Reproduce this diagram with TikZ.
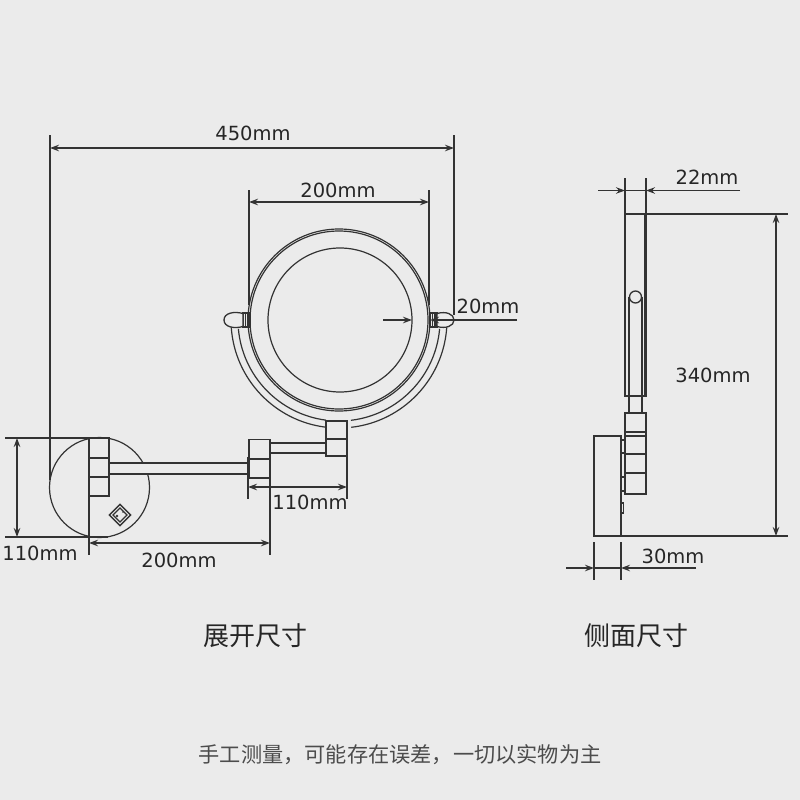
\documentclass[tikz,border=0pt]{standalone}
\usepackage{fontspec}
\setmainfont{DejaVu Sans}
\newfontfamily\cjkfont{Noto Sans CJK SC}
\usetikzlibrary{arrows.meta}
\definecolor{paper}{HTML}{EBEBEB}
\definecolor{ink}{HTML}{333333}

\begin{document}
\begin{tikzpicture}[
		x=1pt, y=-1pt,
		% Styles
		part/.style={draw=ink, line width=1.3pt, fill=paper},
		outline/.style={draw=ink, line width=1.2pt},
		extline/.style={draw=ink, line width=1.3pt},
		% Labels
		dimtext/.style={font=\fontsize{19.5}{20}\selectfont, text=black!85, inner sep=0pt},
		title/.style={font=\cjkfont\fontsize{26}{28}\selectfont, text=black!85, inner sep=0pt},
		remark/.style={font=\cjkfont\fontsize{21.2}{23}\selectfont, text=black!70, inner sep=0pt},
		% Arrows
		>={Stealth[length=9pt,width=6.5pt]},
		]

		% Background
		\fill[paper] (0,0) rectangle (800,800);

		% Wall plate
		\draw[outline] (99.5,487.5) circle[radius=50];
		\node[part, minimum size=15pt, inner sep=0pt, rotate=45] (switch_outer) at (120,515) {};
		\node[outline, minimum size=10pt, inner sep=0pt, rotate=45] (switch_inner) at (120,515) {};
		\fill[ink] (117,516) circle[radius=1.3] (123,512) circle[radius=0.8];

		% Long arm
		\draw[part] (109,463) rectangle (248,474);
		% Wall block
		\draw[part] (89,438) rectangle (109,496);
		\draw[outline] (89,458) -- (109,458);
		\draw[outline] (89,477) -- (109,477);
		% Short arm
		\draw[part] (270,443) rectangle (326,453);
		% Middle block
		\draw[part] (249,439.5) rectangle (270,478);
		\draw[outline] (249,459) -- (270,459);

		% Mirror yoke
		\draw[outline] (339,320) +(176:108) arc[start angle=176, end angle=97, radius=108];
		\draw[outline] (339,320) +(175:101) arc[start angle=175, end angle=97.4, radius=101];
		\draw[outline] (339,320) +(4:108) arc[start angle=4, end angle=83.5, radius=108];
		\draw[outline] (339,320) +(5:101) arc[start angle=5, end angle=83.2, radius=101];

		% Mirror block
		\draw[part] (326,421) rectangle (347,456);
		\draw[outline] (326,439) -- (347,439);

		% Mirror
		\draw[outline] (339,320) circle[radius=91];
		\draw[outline] (339,320) circle[radius=89];
		\draw[outline] (340,320) circle[radius=72];

		% Knobs
		\draw[part] (243,313) rectangle (250,327);
		\draw[outline] (245.5,313) -- (245.5,327) (248,313) -- (248,327);
		\draw[part] (243,313.5) .. controls (234,311) and (224,313) .. (224,320) .. controls (224,327) and (234,329) .. (243,326.5) -- cycle;
		\draw[part] (430,313) rectangle (437,327);
		\draw[outline] (432.5,313) -- (432.5,327) (435,313) -- (435,327);
		\draw[part] (437,313.5) .. controls (446,311) and (454,314) .. (454,320) .. controls (454,326) and (446,329) .. (437,326.5) -- cycle;

		% Side view: mirror
		\draw[part] (625,214) rectangle (646,396);
		\draw[draw=ink, line width=3pt] (645,214) -- (645,396);
		\draw[outline] (629,297) -- (629,413) (642,297) -- (642,413);
		\draw[part] (635.5,297) circle[radius=6];

		% Side view: base
		\draw[part] (594,436) rectangle (621,536);
		\draw[part] (621,440) rectangle (625,453);
		\draw[part] (621,477) rectangle (625,491);
		\draw[part] (621,503) rectangle (623.5,513);
		\draw[part] (625,413) rectangle (646,494);
		\draw[outline] (625,432) -- (646,432) (625,436) -- (646,436);
		\draw[outline] (625,454) -- (646,454) (625,473) -- (646,473);

		% Extension lines
		\draw[extline] (50,135) -- (50,480);
		\draw[extline] (454,135) -- (454,315);
		\draw[extline] (249,190) -- (249,305);
		\draw[extline] (429,190) -- (429,305);
		\draw[extline] (5,438) -- (105,438);
		\draw[extline] (5,537) -- (108,537);
		\draw[extline] (89,496) -- (89,555);
		\draw[extline] (270,478) -- (270,555);
		\draw[extline] (248,457) -- (248,499);
		\draw[extline] (347,456) -- (347,499);
		\draw[extline] (625,178) -- (625,214);
		\draw[extline] (646,178) -- (646,214);
		\draw[extline] (625,214) -- (788,214);
		\draw[extline] (594,536) -- (788,536);
		\draw[extline] (594,542) -- (594,580);
		\draw[extline] (621,542) -- (621,580);

		% Dimensions
		\draw[extline, <->] (50,148) -- (454,148);
		\draw[extline, <->] (249,202) -- (429,202);
		\draw[extline, <->] (17,438) -- (17,537);
		\draw[extline, <->] (89,543) -- (270,543);
		\draw[extline, <->] (248,487) -- (347,487);
		\draw[extline, <->] (776,214) -- (776,536);
		\draw[extline, ->] (383,320) -- (412,320);
		\draw[extline, ->] (517,320) -- (430,320);
		\draw[extline, ->] (598,190.5) -- (625,190.5);
		\draw[extline, ->] (740,190.5) -- (646,190.5);
		\draw[extline] (625,190.5) -- (646,190.5);
		\draw[extline, ->] (566,568) -- (594,568);
		\draw[extline, ->] (696,568) -- (621,568);
		\draw[extline] (594,568) -- (621,568);

		% Dimension labels
		\node[dimtext] (len_total) at (253,133) {450mm};
		\node[dimtext] (len_mirror) at (338,190) {200mm};
		\node[dimtext] (len_knob) at (488,306) {20mm};
		\node[dimtext] (len_plate) at (40,553) {110mm};
		\node[dimtext] (len_arm) at (179,560) {200mm};
		\node[dimtext] (len_short) at (310,502) {110mm};
		\node[dimtext] (len_depth) at (707,177) {22mm};
		\node[dimtext] (len_height) at (713,375) {340mm};
		\node[dimtext] (len_base) at (673,556) {30mm};

		% Titles
		\node[title] (title_open) at (255,636) {展开尺寸};
		\node[title] (title_side) at (636,636) {侧面尺寸};
		\node[remark] (note) at (400,755) {手工测量，可能存在误差，一切以实物为主};

	\end{tikzpicture}
\end{document}
